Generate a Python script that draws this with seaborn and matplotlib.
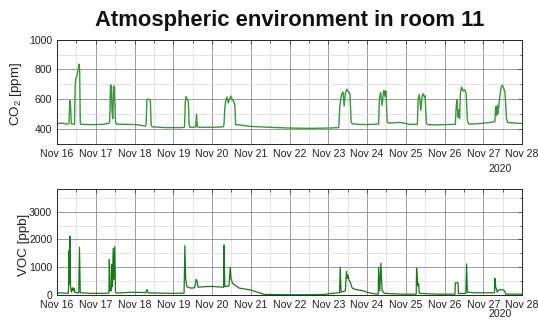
import matplotlib
matplotlib.use("Agg")
import matplotlib.pyplot as plt
import matplotlib.dates as mdates
from matplotlib.ticker import MultipleLocator, FixedLocator
import numpy as np
import pandas as pd
import seaborn as sns

# ---------------- data (days since 2020-11-16 00:00) ----------------
co2_day = [
    0.00, 0.15, 0.28,
    0.31, 0.33, 0.35, 0.37, 0.45,
    0.47, 0.49, 0.51, 0.53, 0.55, 0.57, 0.585, 0.60,
    0.62, 0.90, 1.20, 1.34,
    1.36, 1.38, 1.40, 1.42, 1.44, 1.46, 1.48, 1.51, 1.53,
    1.80, 2.05, 2.28,
    2.30, 2.32, 2.35, 2.39, 2.41, 2.43, 2.46,
    2.80, 3.20, 3.29,
    3.31, 3.33, 3.36, 3.39, 3.41, 3.43,
    3.58, 3.60, 3.62, 3.65,
    4.00, 4.29,
    4.31, 4.33, 4.36, 4.39, 4.42, 4.45, 4.49, 4.52, 4.56, 4.59, 4.61,
    4.70, 5.00, 5.50, 6.00, 6.50, 7.00, 7.27,
    7.30, 7.34, 7.38, 7.41, 7.44, 7.48, 7.52, 7.56, 7.59, 7.62,
    7.80, 8.00, 8.30,
    8.32, 8.35, 8.39, 8.42, 8.44, 8.46, 8.49, 8.52, 8.55,
    8.70, 8.85, 8.95, 9.10, 9.30,
    9.32, 9.35, 9.39, 9.42, 9.45, 9.48, 9.50, 9.53, 9.56,
    9.80, 10.00, 10.28,
    10.30, 10.32, 10.35, 10.37, 10.39, 10.41, 10.44, 10.48, 10.52, 10.56, 10.59, 10.62,
    10.80, 11.00, 11.20, 11.30,
    11.32, 11.34, 11.36, 11.38, 11.42, 11.46, 11.49, 11.52, 11.56, 11.60, 11.63,
    11.80, 12.00,
]
co2_ppm = [
    437, 440, 432,
    440, 592, 560, 435, 432,
    700, 745, 752, 780, 800, 836, 790, 445,
    432, 430, 432, 440,
    450, 697, 690, 520, 470, 690, 680, 450, 433,
    432, 430, 420,
    430, 595, 602, 598, 590, 425, 415,
    410, 410, 412,
    580, 619, 600, 585, 430, 412,
    413, 500, 420, 412,
    412, 415,
    430, 540, 600, 615, 575, 600, 622, 595, 590, 560, 430,
    428, 418, 412, 407, 405, 407, 410,
    560, 630, 650, 555, 640, 668, 650, 640, 450, 435,
    432, 430, 435,
    600, 646, 560, 640, 660, 620, 655, 450, 440,
    442, 445, 440, 432, 432,
    600, 632, 525, 620, 638, 615, 622, 440, 430,
    428, 430, 432,
    540, 597, 480, 530, 470, 640, 682, 655, 665, 640, 460, 435,
    435, 440, 445, 450,
    550, 490, 560, 500, 600, 680, 695, 680, 650, 470, 445,
    440, 438,
]

voc_day = [
    0.00, 0.15, 0.29,
    0.30, 0.31, 0.32, 0.335, 0.35, 0.37,
    0.40, 0.42, 0.44, 0.46,
    0.56, 0.58, 0.60,
    0.90, 1.20, 1.34,
    1.35, 1.37, 1.40, 1.41, 1.43, 1.45, 1.47, 1.49, 1.51, 1.54,
    1.80, 2.00, 2.20, 2.29, 2.32, 2.35, 2.60, 3.00, 3.28,
    3.30, 3.32, 3.35, 3.45, 3.55, 3.59, 3.61, 3.64, 3.80, 4.00, 4.20, 4.30,
    4.31, 4.33, 4.44, 4.47, 4.49, 4.53, 4.70, 5.00, 5.20, 5.35,
    6.00, 6.50, 6.90, 7.10, 7.29,
    7.31, 7.33, 7.44, 7.47, 7.49, 7.51, 7.53, 7.56, 7.62, 7.70, 7.90, 8.00, 8.20, 8.29,
    8.30, 8.33, 8.36, 8.39, 8.45, 8.70, 9.00, 9.27,
    9.28, 9.30, 9.31, 9.33, 9.35, 9.80, 10.27,
    10.28, 10.35, 10.36, 10.55, 10.57, 10.59, 10.80, 11.29,
    11.30, 11.32, 11.36, 11.40, 11.44, 11.50, 11.55, 11.58, 12.00,
]
voc_ppb = [
    80, 70, 60,
    300, 1600, 400, 2120, 300, 100,
    260, 150, 250, 90,
    80, 1720, 80,
    60, 60, 70,
    1280, 150, 150, 1100, 300, 1680, 550, 1740, 100, 70,
    90, 100, 90, 80, 200, 80, 70, 60, 70,
    1780, 600, 300, 250, 260, 560, 520, 280, 300, 310, 290, 280,
    1800, 300, 330, 1000, 600, 420, 250, 180, 90, 20,
    10, 10, 20, 60, 80,
    1000, 100, 150, 842, 600, 720, 560, 480, 250, 200, 150, 100, 40, 30,
    1000, 150, 1140, 150, 60, 40, 30, 30,
    960, 540, 330, 420, 60, 30, 30,
    440, 440, 50, 60, 1120, 100, 80, 80,
    600, 300, 100, 180, 190, 190, 150, 30, 30,
]

title_text = "Atmospheric environment in room 11"
co2_label = "CO$_2$ [ppm]"
voc_label = "VOC [ppb]"
co2_ticks = [400, 600, 800, 1000]
voc_ticks = [0, 1000, 2000, 3000]
year_label = "2020"

# ---------------- styling ----------------
sns.set_theme(style="white")
plt.rcParams["font.family"] = ["Liberation Sans", "DejaVu Sans"]
plt.rcParams["mathtext.fontset"] = "custom"
plt.rcParams["mathtext.rm"] = "Liberation Sans"
plt.rcParams["mathtext.default"] = "regular"

start = pd.Timestamp("2020-11-16")
co2_df = pd.DataFrame({"time": start + pd.to_timedelta(co2_day, unit="D"), "co2": co2_ppm})
voc_df = pd.DataFrame({"time": start + pd.to_timedelta(voc_day, unit="D"), "voc": voc_ppb})

W, H = 538, 320
fig = plt.figure(figsize=(W / 100, H / 100), dpi=100)
fig.patch.set_facecolor("white")
L, R = 57, 522
ax1 = fig.add_axes([L / W, 1 - 144 / H, (R - L) / W, (144 - 39.7) / H])
ax2 = fig.add_axes([L / W, 1 - 295 / H, (R - L) / W, (295 - 188.7) / H])

sns.lineplot(data=co2_df, x="time", y="co2", ax=ax1, color="#3a963a", lw=1.0,
             estimator=None, sort=False)
sns.lineplot(data=voc_df, x="time", y="voc", ax=ax2, color="#18791a", lw=0.9,
             estimator=None, sort=False)

ax1.set_ylim(300, 1000)
ax1.yaxis.set_major_locator(FixedLocator(co2_ticks))
ax1.yaxis.set_minor_locator(MultipleLocator(100))
ax2.set_ylim(0, 3830)
ax2.yaxis.set_major_locator(FixedLocator(voc_ticks))
ax2.yaxis.set_minor_locator(MultipleLocator(500))

TS = 7.6
for ax, yoff in ((ax1, -18), (ax2, -13.5)):
    ax.set_xlim(start, start + pd.Timedelta(days=12))
    ax.xaxis.set_major_locator(mdates.DayLocator())
    ax.xaxis.set_minor_locator(mdates.HourLocator(byhour=[12]))
    ax.xaxis.set_major_formatter(mdates.DateFormatter("%b %d"))
    ax.set_xlabel("")
    ax.grid(which="major", color="#8c8c8c", lw=0.6)
    ax.grid(which="minor", color="#d9d9d9", lw=0.5)
    ax.set_axisbelow(True)
    for s in ax.spines.values():
        s.set_color("#262626")
        s.set_linewidth(0.7)
        s.set_visible(True)
    ax.tick_params(which="both", direction="in", top=True, right=True,
                   color="#262626", width=0.5)
    ax.tick_params(which="major", length=3, labelsize=TS, pad=3.5, labelcolor="#222222")
    ax.tick_params(which="minor", length=1.8)
    ax.annotate(year_label, xy=(0.953, 0), xycoords="axes fraction",
                xytext=(0, yoff), textcoords="offset points",
                ha="center", va="center", fontsize=TS, color="#222222")

ax1.set_ylabel(co2_label, fontsize=9.6, color="#222222")
ax1.yaxis.set_label_coords(-0.07, 0.48)
ax2.set_ylabel(voc_label, fontsize=9.6, color="#222222")
ax2.yaxis.set_label_coords(-0.059, 0.47)

fig.text(0.539, 1 - 20.5 / H, title_text, ha="center", va="center",
         fontsize=15.8, fontweight="bold", color="#111111")

fig.savefig("out.png", dpi=100, facecolor="white")
